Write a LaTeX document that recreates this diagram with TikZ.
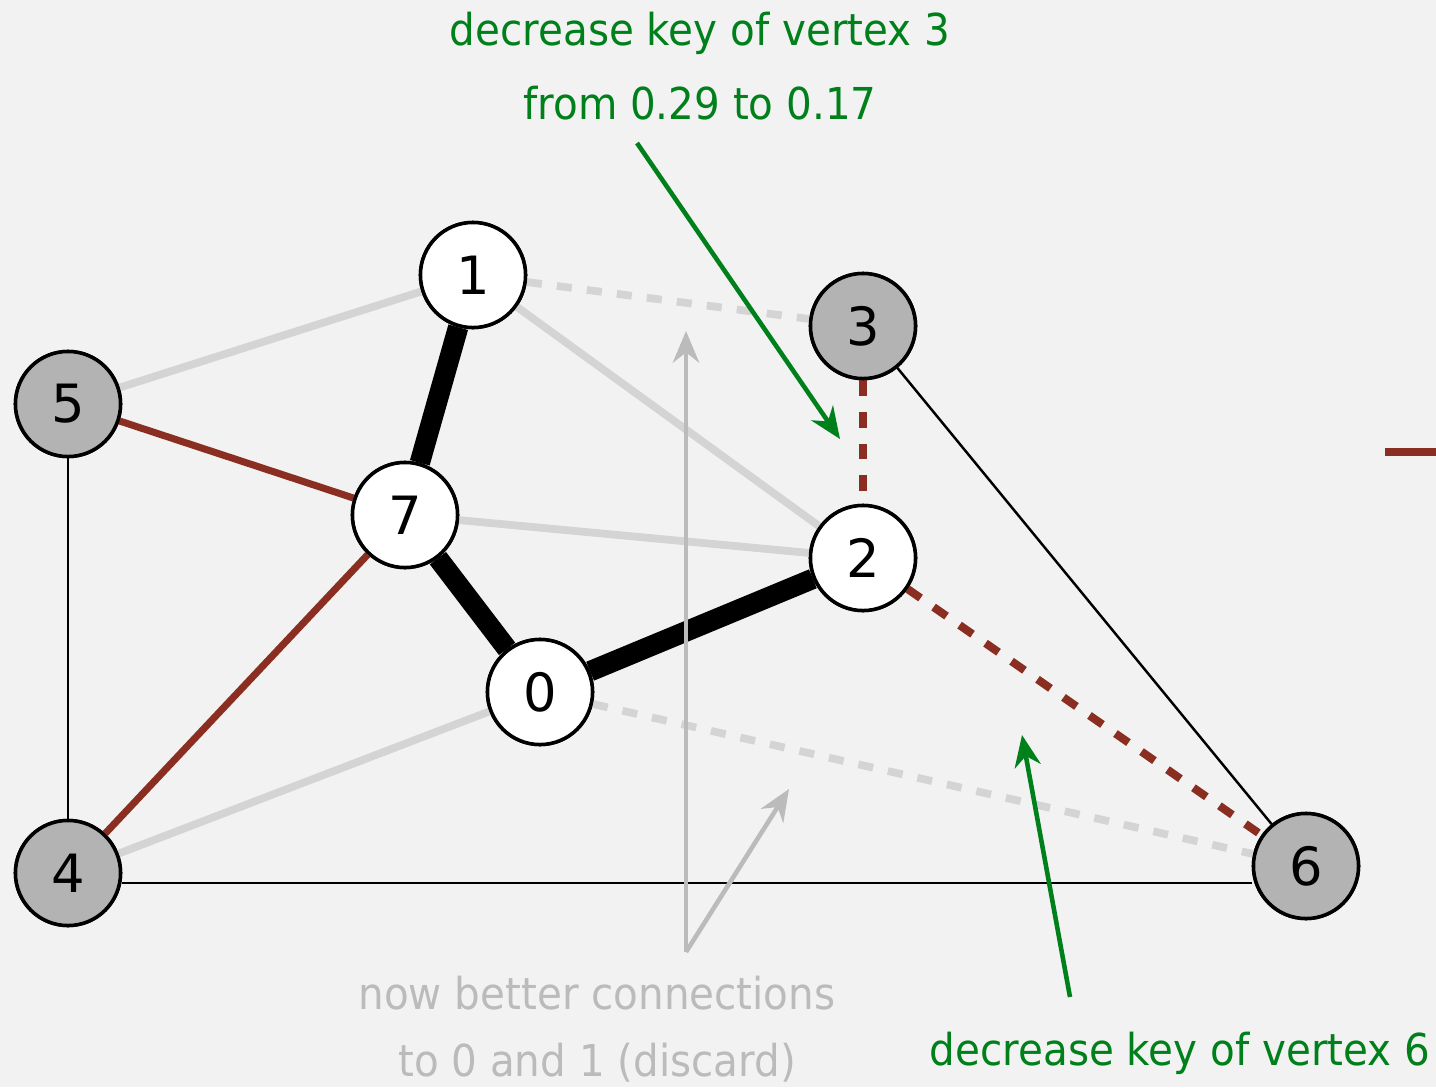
\documentclass[tikz,border=0pt]{standalone}
\usepackage{fontspec}
\setmainfont{DejaVu Sans}
\newfontfamily\annfont[FakeStretch=0.92]{DejaVu Sans}
\usetikzlibrary{arrows.meta}
\definecolor{bg}{HTML}{F2F2F2}
\definecolor{lgray}{HTML}{D4D4D4}
\definecolor{dred}{HTML}{8B2E22}
\definecolor{dgreen}{HTML}{00801A}
\definecolor{ngray}{HTML}{B3B3B3}
\definecolor{tgray}{HTML}{BBBBBB}
\tikzset{
  vtx/.style={circle,draw=black,line width=1pt,fill=white,minimum size=1.05cm,inner sep=0pt,font=\fontsize{15}{15}\selectfont},
  gvtx/.style={vtx,fill=ngray},
  faint/.style={draw=lgray,line width=2.2pt},
  faintdash/.style={draw=lgray,line width=2.2pt,dash pattern=on 4.3pt off 4.3pt},
  treeedge/.style={draw=black,line width=5.8pt},
  cand/.style={draw=dred,line width=2pt},
  canddash/.style={draw=dred,line width=2.3pt,dash pattern=on 4.5pt off 4.5pt},
  plain/.style={draw=black,line width=0.7pt},
  garrow/.style={draw=dgreen,line width=1.3pt,-{Stealth[length=9pt,width=7.5pt]}},
  grarrow/.style={draw=tgray,line width=1.3pt,-{Stealth[length=9pt,width=7.5pt]}},
  gtext/.style={text=dgreen,font=\annfont\fontsize{12.5}{12.5}\selectfont},
  ttext/.style={text=tgray,font=\annfont\fontsize{12.5}{12.5}\selectfont},
}
\begin{document}
\begin{tikzpicture}[x=0.01cm,y=-0.01cm]
\fill[bg] (0,0) rectangle (1436,1087);
\useasboundingbox (0,0) rectangle (1436,1087);
% nodes
\node[vtx] (n1) at (473,275) {1};
\node[gvtx] (n3) at (863,326) {3};
\node[gvtx] (n5) at (68,404) {5};
\node[vtx] (n7) at (405,515) {7};
\node[vtx] (n2) at (863,558) {2};
\node[vtx] (n0) at (540,692) {0};
\node[gvtx] (n4) at (68,873) {4};
\node[gvtx] (n6) at (1306,866) {6};
% edges
\path[faint] (n5) -- (n1);
\path[faint] (n1) -- (n2);
\path[faint] (n7) -- (n2);
\path[faint] (n0) -- (n4);
\path[faintdash] (n1) -- (n3);
\path[faintdash] (n0) -- (n6);
\path[plain] (n5) -- (n4);
\path[plain] (n4.east |- 0,883) -- (n6.west |- 0,883);
\path[plain] (n3) -- (n6);
\path[cand] (n5) -- (n7);
\path[cand] (n4) -- (n7);
\path[canddash] (n3) -- (n2);
\path[canddash] (n2) -- (n6);
\path[treeedge] (n1) -- (n7);
\path[treeedge] (n7) -- (n0);
\path[treeedge] (n0) -- (n2);
% redraw nodes on top
\node[vtx] at (473,275) {1};
\node[gvtx] at (863,326) {3};
\node[gvtx] at (68,404) {5};
\node[vtx] at (405,515) {7};
\node[vtx] at (863,558) {2};
\node[vtx] at (540,692) {0};
\node[gvtx] at (68,873) {4};
\node[gvtx] at (1306,866) {6};
% right stub
\coordinate (s1) at (1385,452);
\coordinate (s2) at (1436,452);
\path[cand] (s1) -- (s2);
% annotations
\node[gtext] (t3a) at (700,33) {decrease key of vertex 3};
\node[gtext] (t3b) at (700,103) {from 0.29 to 0.17};
\coordinate (a3s) at (637,143);
\coordinate (a3e) at (840,439);
\path[garrow] (a3s) -- (a3e);
\node[gtext] (t6) at (1180,1053) {decrease key of vertex 6};
\coordinate (a6s) at (1070,997);
\coordinate (a6e) at (1022,735);
\path[garrow] (a6s) -- (a6e);
\node[ttext] (tg1) at (597,993) {now better connections};
\node[ttext] (tg2) at (597,1063) {to 0 and 1 (discard)};
\coordinate (gs) at (686,952);
\coordinate (ge1) at (686,331);
\coordinate (ge2) at (789,789);
\path[grarrow] (gs) -- (ge1);
\path[grarrow] (gs) -- (ge2);
\end{tikzpicture}
\end{document}
